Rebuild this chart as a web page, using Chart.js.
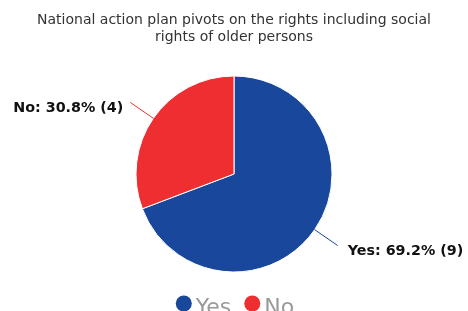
<!DOCTYPE html>
<html>
<head>
<meta charset="utf-8">
<script src="https://cdn.jsdelivr.net/npm/chart.js@4"></script>
<style>
  html, body { margin: 0; padding: 0; background: #fff; overflow: hidden; }
</style>
</head>
<body>
<canvas id="chart" width="468" height="311"></canvas>
<script>
const titleLines = ['National action plan pivots on the rights including social', 'rights of older persons'];
const labels = ['Yes', 'No'];
const counts = [9, 4];
const colors = ['#18479c', '#ee2e31'];

const total = counts.reduce((a, b) => a + b, 0);

// leader lines + "Label: pct% (n)" next to each slice
const sliceLabels = {
  id: 'sliceLabels',
  afterDatasetsDraw(chart) {
    const ctx = chart.ctx;
    const arcs = chart.getDatasetMeta(0).data;
    ctx.save();
    ctx.font = 'bold 14.3px "DejaVu Sans"';
    ctx.textBaseline = 'middle';
    arcs.forEach((arc, i) => {
      const p = arc.getProps(['x', 'y', 'startAngle', 'endAngle', 'outerRadius'], true);
      const mid = (p.startAngle + p.endAngle) / 2;
      const cos = Math.cos(mid), sin = Math.sin(mid);
      const x0 = p.x + cos * p.outerRadius, y0 = p.y + sin * p.outerRadius;
      const x1 = p.x + cos * (p.outerRadius + 28), y1 = p.y + sin * (p.outerRadius + 28);
      ctx.strokeStyle = colors[i];
      ctx.lineWidth = 1;
      ctx.beginPath();
      ctx.moveTo(x0, y0);
      ctx.lineTo(x1, y1);
      ctx.stroke();
      const pct = (counts[i] / total * 100).toFixed(1);
      const text = `${labels[i]}: ${pct}% (${counts[i]})`;
      ctx.fillStyle = '#111';
      if (cos < 0) {
        ctx.textAlign = 'right';
        ctx.fillText(text, x1 - 7, y1 + 6);
      } else {
        ctx.textAlign = 'left';
        ctx.fillText(text, x1 + 10, y1 + 6);
      }
    });
    ctx.restore();
  }
};

// bottom legend: dot + label, group centred under the pie
const dotLegend = {
  id: 'dotLegend',
  afterDraw(chart) {
    const ctx = chart.ctx;
    const r = 8, gap = 4, spacing = 13;
    ctx.save();
    ctx.font = '22px "DejaVu Sans"';
    ctx.textBaseline = 'alphabetic';
    ctx.textAlign = 'left';
    const widths = labels.map(l => 2 * r + gap + ctx.measureText(l).width);
    const full = widths.reduce((a, b) => a + b, 0) + spacing * (labels.length - 1);
    let x = (chart.width - full) / 2 + 1;
    const cy = 303.5;
    labels.forEach((l, i) => {
      ctx.fillStyle = colors[i];
      ctx.beginPath();
      ctx.arc(x + r, cy, r, 0, Math.PI * 2);
      ctx.fill();
      ctx.fillStyle = '#999';
      ctx.fillText(l, x + 2 * r + gap, cy + 10);
      x += widths[i] + spacing;
    });
    ctx.restore();
  }
};

new Chart(document.getElementById('chart'), {
  type: 'pie',
  data: {
    labels: labels,
    datasets: [{
      data: counts,
      backgroundColor: colors,
      borderColor: '#fff',
      borderWidth: 1,
      radius: 98
    }]
  },
  options: {
    responsive: false,
    animation: false,
    devicePixelRatio: 1,
    layout: { padding: { bottom: 29.6 } },
    plugins: {
      title: {
        display: true,
        text: titleLines,
        color: '#333',
        font: { family: 'DejaVu Sans', size: 14, weight: 'normal', lineHeight: 1.2 },
        padding: { top: 12, bottom: 21 }
      },
      legend: { display: false },
      tooltip: { enabled: false }
    }
  },
  plugins: [sliceLabels, dotLegend]
});
</script>
</body>
</html>
